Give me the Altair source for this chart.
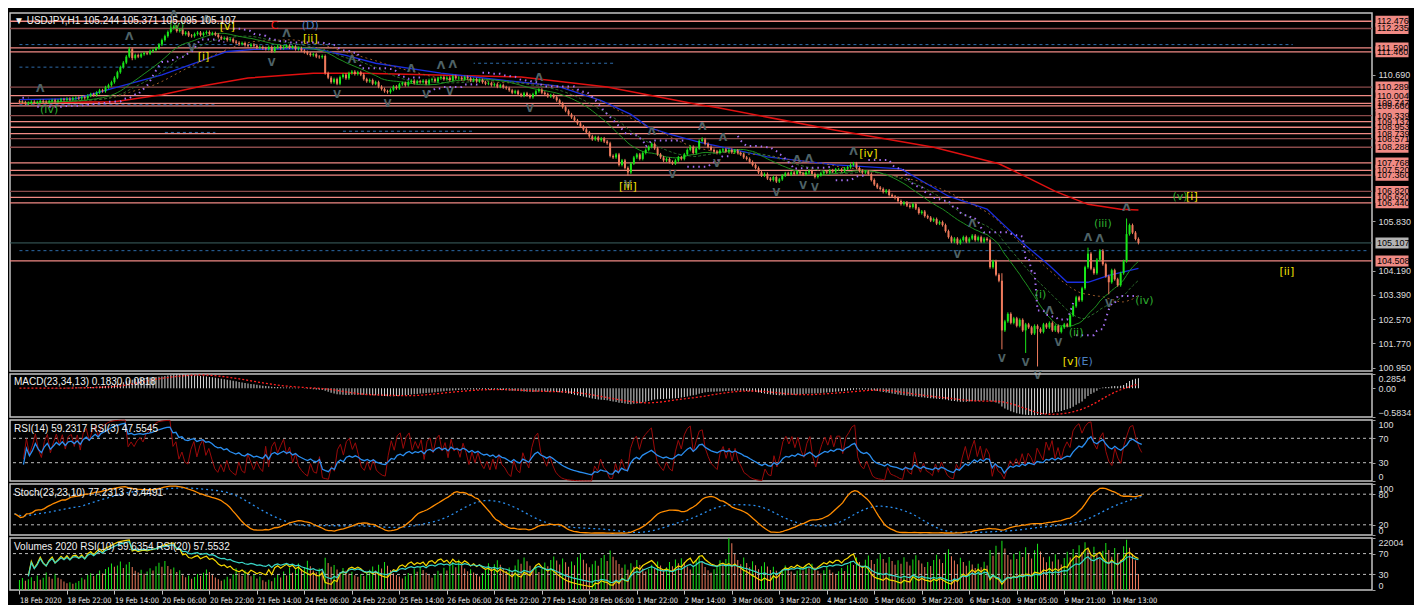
import altair as alt
import pandas as pd
import numpy as np

# ---------------- data ----------------
header_text = "▼ USDJPY,H1  105.244 105.371 105.095 105.107"
macd_text = "MACD(23,34,13) 0.1830 0.0818"
rsi_text = "RSI(14) 59.2317  RSI(3) 47.5545"
stoch_text = "Stoch(23,23,10) 77.2313 73.4491"
vol_text = "Volumes 2020  RSI(10) 59.6354  RSI(20) 57.5532"

date_labels = ["18 Feb 2020", "18 Feb 22:00", "19 Feb 14:00", "20 Feb 06:00", "20 Feb 22:00",
               "21 Feb 14:00", "24 Feb 06:00", "24 Feb 22:00", "25 Feb 14:00", "26 Feb 06:00",
               "26 Feb 22:00", "27 Feb 14:00", "28 Feb 06:00", "1 Mar 22:00", "2 Mar 14:00",
               "3 Mar 06:00", "3 Mar 22:00", "4 Mar 14:00", "5 Mar 06:00", "5 Mar 22:00",
               "6 Mar 14:00", "9 Mar 05:00", "9 Mar 21:00", "10 Mar 13:00"]

closes = [
    109.80, 109.78, 109.74, 109.76, 109.80, 109.77, 109.79, 109.83, 109.80, 109.78, 109.82, 109.85, 109.81, 109.84, 109.88, 109.86, 109.90, 109.87, 109.92,
    109.93, 109.91, 109.95, 109.92, 110.00, 110.05, 110.02, 110.10, 110.18, 110.15, 110.28, 110.35, 110.45,
    110.60, 110.78, 110.95, 111.10, 111.30, 111.55,
    111.25, 111.35, 111.30, 111.38, 111.42, 111.40, 111.48, 111.52, 111.58,
    111.70, 111.85, 111.98, 112.12, 112.25, 112.30,
    112.15, 112.20, 112.05, 112.10, 112.00, 111.98, 112.05, 112.10, 112.02, 112.08, 112.12, 112.05, 112.08,
    112.03, 111.95, 111.90, 111.92, 111.85, 111.88, 111.80, 111.76, 111.72, 111.75, 111.68, 111.65, 111.70, 111.66, 111.60,
    111.62, 111.58, 111.55, 111.62, 111.48, 111.60, 111.64, 111.58, 111.62, 111.66, 111.60, 111.63, 111.55, 111.58, 111.50,
    111.45, 111.40, 111.35, 111.38, 111.30, 111.28, 111.32,
    110.75, 110.60, 110.45, 110.55, 110.40, 110.62, 110.70, 110.58, 110.75, 110.80, 110.72,
    110.78, 110.70, 110.55, 110.48, 110.52, 110.40, 110.45, 110.30, 110.22, 110.15, 110.12, 110.20, 110.30, 110.25, 110.38, 110.42, 110.35, 110.45,
    110.50, 110.42, 110.48, 110.45, 110.50, 110.40, 110.52, 110.55, 110.48, 110.58, 110.62, 110.55, 110.60, 110.52, 110.65, 110.58, 110.60, 110.55, 110.62, 110.58, 110.50, 110.55, 110.48, 110.52,
    110.45, 110.40, 110.42, 110.35, 110.38, 110.30, 110.35, 110.28, 110.25, 110.18, 110.10, 110.15, 110.05, 110.00, 110.08, 110.02,
    109.95, 110.05, 110.15, 110.20, 110.10, 110.05, 109.98, 110.02, 109.95,
    109.85, 109.75, 109.62, 109.50, 109.38, 109.28, 109.18, 109.08, 108.98, 108.88,
    108.78, 108.65, 108.55, 108.62, 108.52, 108.58, 108.48, 108.42,
    108.00, 107.95, 108.05, 107.70, 107.85, 107.60, 107.45, 107.75, 107.95, 108.05, 107.90, 108.10, 108.20,
    108.30, 108.40, 108.25, 108.05, 107.95, 107.85, 107.90, 107.80, 107.75, 107.85, 107.95, 107.90, 108.05, 108.20, 108.30, 108.10, 108.25,
    108.50, 108.55, 108.40, 108.30, 108.20, 108.15, 108.10, 108.18, 108.22, 108.15, 108.20, 108.12, 108.18, 108.10, 108.05, 107.95, 107.90,
    107.80, 107.70, 107.60, 107.45, 107.35, 107.40, 107.25, 107.20, 107.30, 107.15, 107.22,
    107.35, 107.42, 107.38, 107.45, 107.40, 107.48, 107.42, 107.38, 107.45, 107.50, 107.40, 107.30, 107.36, 107.42, 107.48, 107.45, 107.52, 107.48, 107.55,
    107.55, 107.50, 107.58, 107.62, 107.70, 107.75,
    107.60, 107.50, 107.45, 107.48, 107.40, 107.20, 107.05, 106.95, 106.90, 106.80, 106.85, 106.70, 106.65, 106.60,
    106.50, 106.40, 106.45, 106.35, 106.30, 106.40, 106.25, 106.10, 106.15, 106.00, 105.95, 105.85, 105.90, 105.75, 105.80, 105.70,
    105.50, 105.30, 105.15, 105.25, 105.10, 105.20, 105.30, 105.15, 105.25, 105.35, 105.20, 105.30, 105.15, 105.25, 105.20,
    104.30, 104.50, 104.05, 103.85, 102.20,
    102.50, 102.75, 102.45, 102.60, 102.35, 102.55, 102.20, 102.40, 102.30, 102.10, 102.35, 102.25, 102.15, 102.40,
    102.30, 102.45, 102.20, 102.35, 102.15, 102.30, 102.40, 102.35,
    102.70, 103.00, 103.30, 103.20, 103.60,
    104.30, 104.75, 104.25, 104.10, 104.55, 104.85, 104.40,
    104.00, 103.80, 104.20, 103.90, 103.70, 104.10,
    104.50, 105.40, 105.70, 105.45, 105.24, 105.107,
]
first_open = 109.82
spike_high = {37: 111.62, 103: 111.35, 230: 108.62, 281: 107.80, 331: 104.10, 360: 104.95, 373: 105.92}
spike_low = {38: 111.18, 205: 107.35, 331: 101.57, 339: 101.45, 343: 101.00, 367: 103.40}

volumes = [
    4200, 5100, 3900, 4600, 5400, 3800, 6100, 4300, 5200, 7400, 5600, 4800, 6900, 5200, 4500, 3600, 2900, 3300, 2600, 3100,
    3800, 5200, 4400, 6300, 7100, 5900, 6800, 8200, 7000, 8900, 9600, 11200, 9800, 10400, 12100, 9300, 10800, 11900, 9700, 8100,
    7400, 8600, 6900, 7800, 9200, 8300, 10100, 11500, 9800, 12300, 10200, 8800, 9500, 7600, 8400, 6200, 5400, 6100, 4800, 5500,
    6800, 5900, 7300, 8700, 7600, 6400, 5300, 4600, 3900, 4400, 5600, 4800, 6700, 9200, 7100, 6000, 8300, 7200, 5800, 6600,
    4900, 5700, 4100, 3500, 4300, 3700, 5200, 6400, 5300, 7800, 6100, 9400, 7300, 8800, 11200, 8900, 9700, 12400, 10100, 8300,
    7500, 9100, 8200, 13600, 11400, 9800, 10600, 8700, 7600, 9300, 8100, 6900, 7700, 6200, 5600, 6800, 5900, 7400, 8600, 9900,
    8200, 10700, 9100, 11800, 10300, 8400, 7100, 6300, 5700, 4900, 5800, 7200, 6100, 8900, 7700, 9800, 8500, 7300, 6400, 5200,
    6700, 8100, 7000, 9400, 8300, 10200, 11900, 9600, 12800, 10500, 9100, 7900, 8800, 7400, 6300, 5700, 7200, 8600, 11300, 9400,
    10900, 12600, 10700, 9200, 8000, 9500, 7800, 10400, 12900, 11100, 13800, 12200, 10300, 8700, 9900, 7600, 8900, 11600, 10100, 12700,
    14200, 12500, 10800, 13300, 11700, 9800, 12100, 10500, 13900, 15600, 12800, 11200, 9600, 10900, 12400, 10300, 13500, 14800, 12300, 16700,
    14100, 12600, 11000, 9400, 10800, 8600, 11300, 9800, 12700, 10600, 9100, 7800, 8900, 10700, 9200, 12100, 10400, 8300, 9600, 11800,
    10100, 12900, 11300, 13400, 11700, 9900, 8700, 10200, 12500, 14300, 11800, 9700, 8400, 7300, 8800, 10300, 12600, 10800, 13100, 22004,
    19800, 15200, 12700, 10900, 13800, 11400, 9600, 12200, 10500, 8800, 10100, 11700, 9900, 8500, 9800, 8100, 7200, 8600, 10400, 9100,
    7800, 6900, 8300, 9700, 8200, 10600, 9200, 11100, 9500, 8100, 7000, 8400, 9900, 8600, 7400, 6500, 7900, 9300, 8000, 10500,
    12200, 10600, 13700, 11900, 10300, 12800, 14600, 12700, 11000, 13200, 15400, 13100, 11500, 14000, 12300, 10700, 12600, 11100, 13900, 12000,
    10400, 12900, 14700, 12600, 11200, 9700, 11800, 10200, 12700, 14900, 13000, 11400, 15800, 17200, 14300, 12500, 10900, 13600, 11800, 10300,
    12400, 10800, 9300, 11100, 9600, 12000, 10400, 16900, 14500, 18700, 15900, 20800, 17600, 14800, 12900, 15300, 13100, 16400, 14000, 18100,
    15500, 13300, 16800, 19600, 16300, 13900, 11700, 14200, 12100, 15100, 12900, 10800, 13500, 16200, 13800, 17300, 14700, 18900, 16100, 20200,
    17400, 14600, 18300, 15700, 13200, 16600, 19900, 16900, 14100, 17800, 15200, 12800, 18500, 21300, 17900, 15300, 12600, 6800,
]
vol_max = 22004

# long moving averages (at several bars)
red_ma_bar = [0, 32, 48, 62, 77, 99, 116, 169, 198, 229, 235, 275, 308, 330, 339, 349, 360, 371, 377]
red_ma_val = [109.77, 109.80, 110.03, 110.33, 110.59, 110.75, 110.75, 110.62, 110.29, 109.70, 109.61,
              108.85, 108.29, 107.74, 107.31, 106.82, 106.39, 106.23, 106.20]
blue_ma_bar = [0, 19, 32, 48, 61, 70, 79, 99, 110, 120, 142, 165, 181, 196, 206, 212, 219, 229, 252,
               275, 297, 313, 326, 339, 347, 353, 360, 367, 377]
blue_ma_val = [109.87, 109.90, 110.26, 110.69, 111.15, 111.47, 111.54, 111.57, 111.34, 111.08, 110.75,
               110.49, 110.33, 109.84, 109.38, 108.95, 108.72, 108.46, 107.97, 107.70, 107.57, 106.66,
               106.23, 105.02, 104.36, 103.80, 103.80, 104.03, 104.26]

# horizontal levels
level_values = [112.476, 112.235, 111.590, 111.460, 110.289, 110.004, 109.747, 109.660, 109.339, 109.137,
                108.953, 108.739, 108.571, 108.288, 107.768, 107.520, 107.360, 106.820, 106.620, 106.440, 104.508]
level_kind = ["l", "d", "l", "l", "d", "l", "l", "l", "d", "l",
              "l", "l", "d", "d", "l", "l", "l", "d", "l", "l", "l"]
current_price = 105.107
dash_start = [0, 0, 200, 0, 49, 109, 0]
dash_end = [429, 66, 153, 66, 66, 153, 454]
dash_value = [111.70, 110.95, 111.08, 109.70, 108.78, 108.82, 104.85]

price_ticks = [110.690, 105.830, 104.190, 103.390, 102.570, 101.770, 100.950]
price_domain = [100.85, 112.75]

wave_text = ["(iv)", "(v)", "[i]", "[v]", "C", "(D)", "[ii]", "[iii]", "[iv]", "(i)", "(ii)",
             "(iii)", "(iv)", "[v]", "(E)", "(v)", "[i]", "[ii]"]
wave_bar = [10, 53, 62, 70, 86, 98, 98, 205, 286, 344, 356, 365, 379, 354, 359, 391, 395, 427]
wave_price = [109.51, 112.33, 111.28, 112.30, 112.33, 112.33, 111.87, 106.98, 108.06, 103.38, 102.10,
              105.74, 103.18, 101.15, 101.15, 106.62, 106.62, 104.13]
wave_kind = ["g", "g", "y", "y", "r", "b", "y", "y", "y", "g", "g", "g", "g", "y", "b", "g", "y", "y"]

# ---------------- layout / style ----------------
W = 1362
H_PRICE, H_MACD, H_RSI, H_STOCH, H_VOL = 358, 43, 61, 51, 52
X_DOMAIN = [-1.5, 454]
UP, DOWN = "#19e619", "#ee7a5c"
FONT = "Liberation Sans"
NARROW = "Liberation Sans Narrow, DejaVu Sans Condensed, Liberation Sans"
AXC = "#dcdcdc"
WAVE_COL = {"g": "#2fae2f", "y": "#f2e200", "r": "#ff1a1a", "b": "#4a7fc0"}
LEVEL_COL = {"l": "#f08a84", "d": "#8a4a4a"}

xscale = alt.Scale(domain=X_DOMAIN, nice=False, zero=False)

# ---------------- derived frames ----------------
n = len(closes)
c = pd.Series(closes, dtype=float)
o = c.shift(1).fillna(first_open)
hi = np.maximum(o, c) + 0.05
lo = np.minimum(o, c) - 0.05
for k, v in spike_high.items():
    hi[k] = max(hi[k], v)
for k, v in spike_low.items():
    lo[k] = min(lo[k], v)
df = pd.DataFrame({"bar": np.arange(n), "open": o, "close": c, "high": hi, "low": lo})
df["dir"] = np.where(df["close"] >= df["open"], "up", "down")

df["ma_g"] = c.rolling(20, min_periods=1).mean()
df["ma_dg"] = c.rolling(30, min_periods=1).mean()
df["ma_br"] = c.rolling(45, min_periods=1).mean()
sma34 = c.rolling(34, min_periods=1).mean()
hh = df["high"].rolling(12, min_periods=1).max()
ll = df["low"].rolling(12, min_periods=1).min()
regime = (c < sma34).astype(int)
df["trail"] = np.where(regime == 1, hh + 0.06, ll - 0.06)
df["seg"] = (regime != regime.shift()).cumsum()


def ema(s, p):
    return s.ewm(span=p, adjust=False).mean()


def rsi(s, p, skip=3):
    d = s.diff().fillna(0)
    g = d.clip(lower=0).ewm(alpha=1.0 / p, adjust=True).mean()
    l = (-d.clip(upper=0)).ewm(alpha=1.0 / p, adjust=True).mean()
    tot = g + l
    r = pd.Series(np.where(tot > 0, 100 * g / tot.where(tot > 0, 1), 50.0))
    r.iloc[:skip] = np.nan
    return r


df["macd"] = ema(c, 23) - ema(c, 34)
df["signal"] = df["macd"].rolling(13, min_periods=1).mean()
df["rsi14"] = rsi(c, 14)
df["rsi3"] = rsi(c, 3)
LL = df["low"].rolling(23, min_periods=1).min()
HH = df["high"].rolling(23, min_periods=1).max()
num = (c - LL).rolling(10, min_periods=1).sum()
den = (HH - LL).rolling(10, min_periods=1).sum()
df["stoch"] = 100 * num / den
df["stoch_sig"] = df["stoch"].rolling(23, min_periods=1).mean()
df["vol"] = volumes
vs = pd.Series(volumes)
df["vdir"] = np.where(vs > vs.shift(1).fillna(0), "up", "down")
df["rsi10"] = rsi(c, 10)
df["rsi20"] = rsi(c, 20)

# fractals (7-bar window)
fu, fd = [], []
H = df["high"].values
L = df["low"].values
for i in range(3, n - 3):
    if H[i] > max(H[i - 3:i]) and H[i] >= max(H[i + 1:i + 4]):
        fu.append((i, H[i]))
    if L[i] < min(L[i - 3:i]) and L[i] <= min(L[i + 1:i + 4]):
        fd.append((i, L[i]))
df_fu = pd.DataFrame(fu, columns=["bar", "y"])
df_fd = pd.DataFrame(fd, columns=["bar", "y"])

df_red = pd.DataFrame({"bar": red_ma_bar, "v": red_ma_val})
df_blue = pd.DataFrame({"bar": blue_ma_bar, "v": blue_ma_val})
df_lv = pd.DataFrame({"level": level_values, "kind": level_kind})
df_lv["col"] = df_lv["kind"].map(LEVEL_COL)
df_dash = pd.DataFrame({"x": dash_start, "x2": dash_end, "v": dash_value})
df_wave = pd.DataFrame({"bar": wave_bar, "v": wave_price, "t": wave_text,
                        "col": [WAVE_COL[k] for k in wave_kind]})
df_cur = pd.DataFrame({"level": [current_price]})

# ---------------- price panel ----------------
yscale = alt.Scale(domain=price_domain, nice=False, zero=False)
yaxis = alt.Axis(orient="right", values=price_ticks, format=".3f", labelColor=AXC, labelFont=FONT,
                 labelFontSize=9, tickColor="#a0a0a0", tickSize=3, domain=False, grid=False,
                 labelPadding=3, labelOverlap=False, labelFlush=True, title=None)


def Y(f):
    return alt.Y(f, type="quantitative", scale=yscale, axis=yaxis, title=None)


def X(f="bar"):
    return alt.X(f, type="quantitative", scale=xscale, axis=None)


lv_rules = alt.Chart(df_lv).mark_rule(strokeWidth=1.3).encode(
    y=Y("level"), color=alt.Color("col:N", scale=None))
dash_rules = alt.Chart(df_dash).mark_rule(strokeWidth=1, strokeDash=[3, 3], color="#2d6aa8").encode(
    x=X("x"), x2="x2", y=Y("v"))
cur_rule = alt.Chart(df_cur).mark_rule(strokeWidth=1, color="#3d6262").encode(y=Y("level"))

red_line = alt.Chart(df_red).mark_line(color="#e01010", strokeWidth=1.5).encode(x=X(), y=Y("v"))
blue_line = alt.Chart(df_blue).mark_line(color="#1a2ee0", strokeWidth=1.3).encode(x=X(), y=Y("v"))
base = alt.Chart(df)
g_line = base.mark_line(color="#1f8f1f", strokeWidth=1).encode(x=X(), y=Y("ma_g"))
dg_line = base.mark_line(color="#2c6b2c", strokeWidth=1, strokeDash=[3, 2]).encode(x=X(), y=Y("ma_dg"))
br_line = base.mark_line(color="#9a5a2a", strokeWidth=1, strokeDash=[2, 3]).encode(x=X(), y=Y("ma_br"))
trail = base.mark_line(color="#a36ef0", strokeWidth=2, strokeDash=[1.5, 4]).encode(
    x=X(), y=Y("trail"), detail="seg:N")

candle_col = alt.Color("dir:N", scale=alt.Scale(domain=["up", "down"], range=[UP, DOWN]), legend=None)
wicks = base.mark_rule(strokeWidth=1).encode(x=X(), y=Y("low"), y2="high", color=candle_col)
bodies = base.mark_bar(size=2).encode(x=X(), y=Y("open"), y2="close", color=candle_col)

frac_up = alt.Chart(df_fu).mark_text(text="Λ", dy=-10, fontSize=11, fontWeight="bold",
                                     color="#4f6367", font="DejaVu Sans").encode(x=X(), y=Y("y"))
frac_dn = alt.Chart(df_fd).mark_text(text="V", dy=10, fontSize=10, fontWeight="bold",
                                     color="#4f6367", font="DejaVu Sans").encode(x=X(), y=Y("y"))

waves = alt.Chart(df_wave).mark_text(fontSize=11, font="DejaVu Sans", align="center", baseline="middle").encode(
    x=X(), y=Y("v"), text="t:N", color=alt.Color("col:N", scale=None))

lv_box = alt.Chart(df_lv).mark_tick(
    orient="horizontal", size=33, thickness=11, color="#f08a84", opacity=1).encode(
    y=Y("level"), x=alt.value(W + 20))
lv_txt = alt.Chart(df_lv).mark_text(align="left", baseline="middle", fontSize=9, font=FONT,
                                    color="black").encode(
    y=Y("level"), x=alt.value(W + 5), text=alt.Text("level:Q", format=".3f"))
cur_box = alt.Chart(df_cur).mark_tick(orient="horizontal", size=33, thickness=11,
                                      color="white").encode(y=Y("level"), x=alt.value(W + 20))
cur_txt = alt.Chart(df_cur).mark_text(align="left", baseline="middle", fontSize=9, font=FONT,
                                      color="black").encode(
    y=Y("level"), x=alt.value(W + 5), text=alt.Text("level:Q", format=".3f"))


def header(t, y=8):
    return alt.Chart(pd.DataFrame({"t": [t]})).mark_text(
        align="left", baseline="middle", fontSize=10, font=FONT, color="#f0f0f0").encode(
        text="t:N", x=alt.value(4), y=alt.value(y))


price = alt.layer(
    lv_rules, dash_rules, cur_rule, red_line, blue_line, br_line, dg_line, g_line, trail,
    wicks, bodies, frac_up, frac_dn, waves, lv_box, lv_txt, cur_box, cur_txt, header(header_text)
).properties(width=W, height=H_PRICE)

# ---------------- MACD ----------------
macd_dom = [-0.5834, 0.2854]
macd_axis = alt.Axis(orient="right", values=[0.2854, 0, -0.5834], labelColor=AXC, labelFont=FONT,
                     labelFontSize=9, tickSize=3, tickColor="#a0a0a0", domain=False, grid=False,
                     labelOverlap=False, labelPadding=3, labelFlush=True, title=None,
                     labelExpr="datum.value == 0 ? '0.00' : format(datum.value, '.4f')")
my = alt.Scale(domain=macd_dom, nice=False, zero=False, clamp=True)
macd_hist = base.mark_bar(size=1, color="#d8d8d8").encode(
    x=X(), y=alt.Y("macd:Q", scale=my, axis=macd_axis, title=None), y2=alt.datum(0))
macd_sig = base.mark_line(color="#ff2020", strokeWidth=1.3, strokeDash=[2, 2]).encode(
    x=X(), y=alt.Y("signal:Q", scale=my, axis=macd_axis, title=None))
macd = alt.layer(macd_hist, macd_sig, header(macd_text, 8)).properties(width=W, height=H_MACD)


# ---------------- oscillators ----------------
def osc_axis(vals, expr=None):
    kw = dict(orient="right", values=vals, labelColor=AXC, labelFont=FONT, labelFontSize=9,
              tickSize=3, tickColor="#a0a0a0", domain=False, grid=False, labelOverlap=False,
              labelPadding=3, labelFlush=True, title=None)
    if expr:
        kw["labelExpr"] = expr
    return alt.Axis(**kw)


s100 = alt.Scale(domain=[0, 100], nice=False)


def level_rules(vals, ax):
    return alt.Chart(pd.DataFrame({"v": vals})).mark_rule(
        color="#bdbdbd", strokeDash=[3, 3], strokeWidth=1).encode(
        y=alt.Y("v:Q", scale=s100, axis=ax, title=None))


rax = osc_axis([100, 70, 30, 0])
rsi_panel = alt.layer(
    level_rules([70, 30], rax),
    base.mark_line(color="#9a0a0a", strokeWidth=1).encode(x=X(), y=alt.Y("rsi3:Q", scale=s100, axis=rax, title=None)),
    base.mark_line(color="#2a8ef0", strokeWidth=1.3).encode(x=X(), y=alt.Y("rsi14:Q", scale=s100, axis=rax, title=None)),
    header(rsi_text, 9),
).properties(width=W, height=H_RSI)

sax = osc_axis([100, 80, 20, 0])
stoch_panel = alt.layer(
    level_rules([80, 20], sax),
    base.mark_line(color="#2a8ef0", strokeWidth=1.3, strokeDash=[2, 3]).encode(
        x=X(), y=alt.Y("stoch_sig:Q", scale=s100, axis=sax, title=None)),
    base.mark_line(color="#ff8c00", strokeWidth=1.3).encode(
        x=X(), y=alt.Y("stoch:Q", scale=s100, axis=sax, title=None)),
    header(stoch_text, 9),
).properties(width=W, height=H_STOCH)

# ---------------- Volumes ----------------
xaxis = alt.Axis(values=list(range(0, 16 * len(date_labels), 16)),
                 labelExpr="[" + ",".join("'%s'" % s for s in date_labels) + "][round(datum.value/16)]",
                 labelAlign="left", labelPadding=2, labelColor="#f0f0f0", labelFont=NARROW, labelFontSize=7.5,
                 tickColor="#c0c0c0", tickSize=4, domain=False, grid=False, labelOverlap=False,
                 labelFlush=False, title=None)
vax = osc_axis([100, 70, 30, 0], "datum.value == 100 ? '%d' : datum.label" % vol_max)
vscale = alt.Scale(domain=[0, vol_max], nice=False)
VX = alt.X("bar:Q", scale=xscale, axis=xaxis, title=None)
vol_bars = base.mark_bar(size=1).encode(
    x=VX,
    y=alt.Y("vol:Q", scale=vscale, axis=None),
    color=alt.Color("vdir:N", scale=alt.Scale(domain=["up", "down"], range=["#12a012", "#ff1010"]), legend=None))
vol_rsi = alt.layer(
    level_rules([70, 30], vax),
    base.mark_line(color="#f5d800", strokeWidth=1.2).encode(
        x=VX, y=alt.Y("rsi10:Q", scale=s100, axis=vax, title=None)),
    base.mark_line(color="#3ad6c8", strokeWidth=1.2).encode(
        x=VX, y=alt.Y("rsi20:Q", scale=s100, axis=vax, title=None)),
    header(vol_text, 9),
)
vol_panel = alt.layer(vol_bars, vol_rsi).resolve_scale(y="independent").properties(width=W, height=H_VOL)

chart = alt.vconcat(price, macd, rsi_panel, stoch_panel, vol_panel, spacing=3, bounds="flush").configure(
    background="black", padding={"left": 0, "top": 0, "right": 2, "bottom": 0}
).configure_view(stroke="#c4c4c4", strokeWidth=1.5)

chart.save("out.html", embed_options={"renderer": "svg", "actions": False})
